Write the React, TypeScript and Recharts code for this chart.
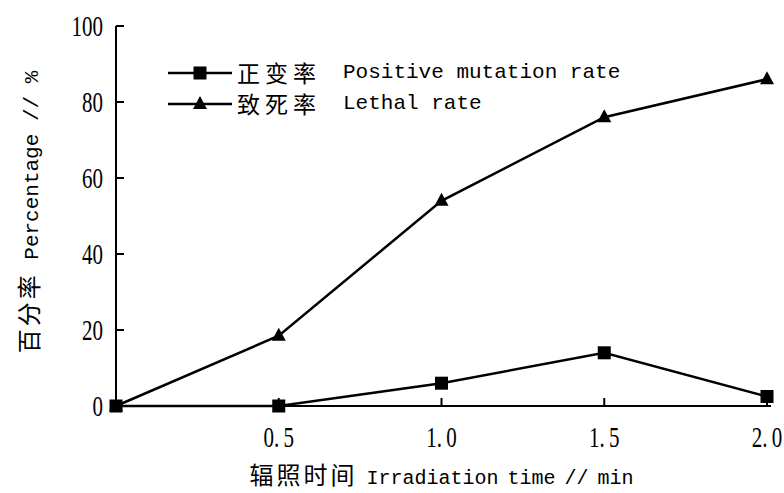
import { LineChart, Line, XAxis, YAxis } from 'recharts';

const times = [0, 0.5, 1.0, 1.5, 2.0];
const positiveRate = [0, 0, 6, 14, 2.5];
const lethalRate = [0, 18.5, 54, 76, 86];
const xTicks = [0.5, 1.0, 1.5, 2.0];
const yTicks = [0, 20, 40, 60, 80, 100];

const data = times.map((t, i) => ({ t, positive: positiveRate[i], lethal: lethalRate[i] }));

const CJK = '"Noto Sans CJK SC"';
const MONO = `"Liberation Mono", ${CJK}`;
const NUM = `"Liberation Serif", serif`;

function SquareDot(props: any) {
  const { cx, cy, index } = props;
  if (cx == null || cy == null) return <g key={`s${index}`} />;
  return <rect key={`s${index}`} x={cx - 6.5} y={cy - 6.5} width={13} height={13} fill="#000" />;
}

function TriangleDot(props: any) {
  const { cx, cy, index } = props;
  if (cx == null || cy == null) return <g key={`t${index}`} />;
  return <polygon key={`t${index}`} points={`${cx},${cy - 8} ${cx - 7},${cy + 5} ${cx + 7},${cy + 5}`} fill="#000" />;
}

function XTick({ x, y, payload }: any) {
  const [a, b] = Number(payload.value).toFixed(1).split('.');
  return (
    <g transform={`translate(${x},${y + 41}) scale(0.7,1)`}>
      <text x={0} y={0} textAnchor="middle" fontFamily={NUM} fontSize={30} fill="#000">
        {a}.{'\u2009'}{b}
      </text>
    </g>
  );
}

function YTick({ x, y, payload }: any) {
  return (
    <g transform={`translate(${x - 13},${y + 10}) scale(0.7,1)`}>
      <text x={0} y={0} textAnchor="end" fontFamily={NUM} fontSize={30} fill="#000">
        {payload.value}
      </text>
    </g>
  );
}

function LegendRow({ cn, en, marker }: { cn: string; en: string; marker: 'square' | 'triangle' }) {
  return (
    <div style={{ display: 'flex', alignItems: 'center', height: 31 }}>
      <svg width={64} height={20} style={{ display: 'block' }}>
        <line x1={0} y1={10} x2={64} y2={10} stroke="#000" strokeWidth={2.5} />
        {marker === 'square' ? (
          <rect x={25.5} y={3.5} width={13} height={13} fill="#000" />
        ) : (
          <polygon points="32,2 25,15 39,15" fill="#000" />
        )}
      </svg>
      <span style={{ marginLeft: 5, fontFamily: CJK, fontSize: 23, letterSpacing: 5, lineHeight: 1 }}>{cn}</span>
      <span style={{ marginLeft: 22, fontFamily: MONO, fontSize: 21, lineHeight: 1 }}>{en}</span>
    </div>
  );
}

export default function App() {
  return (
    <div style={{ position: 'fixed', left: 0, top: 0, width: 784, height: 493, background: '#fff' }}>
      <LineChart width={784} height={493} data={data} margin={{ top: 26, right: 13, left: 56, bottom: 37 }}>
        <XAxis
          dataKey="t"
          type="number"
          domain={[0, 2]}
          ticks={xTicks}
          padding={{ left: 0, right: 4 }}
          height={50}
          axisLine={{ stroke: '#000', strokeWidth: 2 }}
          tickLine={{ stroke: '#000', strokeWidth: 2 }}
          tickSize={-8}
          tickMargin={8}
          tick={<XTick />}
          interval={0}
          label={{
            content: ({ viewBox }: any) => (
              <text
                x={viewBox.x + (viewBox.width - 4) / 2}
                y={viewBox.y + 78}
                textAnchor="middle"
                fill="#000"
              >
                <tspan fontFamily={CJK} fontSize={24} letterSpacing={3}>辐照时间</tspan>
                <tspan fontFamily={MONO} fontSize={20} wordSpacing={-3}> Irradiation time // min</tspan>
              </text>
            ),
          }}
        />
        <YAxis
          type="number"
          domain={[0, 100]}
          ticks={yTicks}
          width={60}
          axisLine={{ stroke: '#000', strokeWidth: 2 }}
          tickLine={{ stroke: '#000', strokeWidth: 2 }}
          tickSize={-8}
          tickMargin={8}
          tick={<YTick />}
          interval={0}
          label={{
            content: ({ viewBox }: any) => {
              const cx = 38;
              const cy = viewBox.y + viewBox.height / 2 - 4;
              return (
                <text x={cx} y={cy} textAnchor="middle" transform={`rotate(-90, ${cx}, ${cy})`} fill="#000">
                  <tspan fontFamily={CJK} fontSize={24} letterSpacing={3}>百分率</tspan>
                  <tspan fontFamily={MONO} fontSize={21}> Percentage // %</tspan>
                </text>
              );
            },
          }}
        />
        <Line
          type="linear"
          dataKey="lethal"
          stroke="#000"
          strokeWidth={2.5}
          dot={TriangleDot}
          activeDot={false}
          isAnimationActive={false}
        />
        <Line
          type="linear"
          dataKey="positive"
          stroke="#000"
          strokeWidth={2.5}
          dot={SquareDot}
          activeDot={false}
          isAnimationActive={false}
        />
      </LineChart>
      <div style={{ position: 'absolute', top: 57, left: 168, color: '#000' }}>
        <LegendRow cn="正变率" en="Positive mutation rate" marker="square" />
        <LegendRow cn="致死率" en="Lethal rate" marker="triangle" />
      </div>
    </div>
  );
}
